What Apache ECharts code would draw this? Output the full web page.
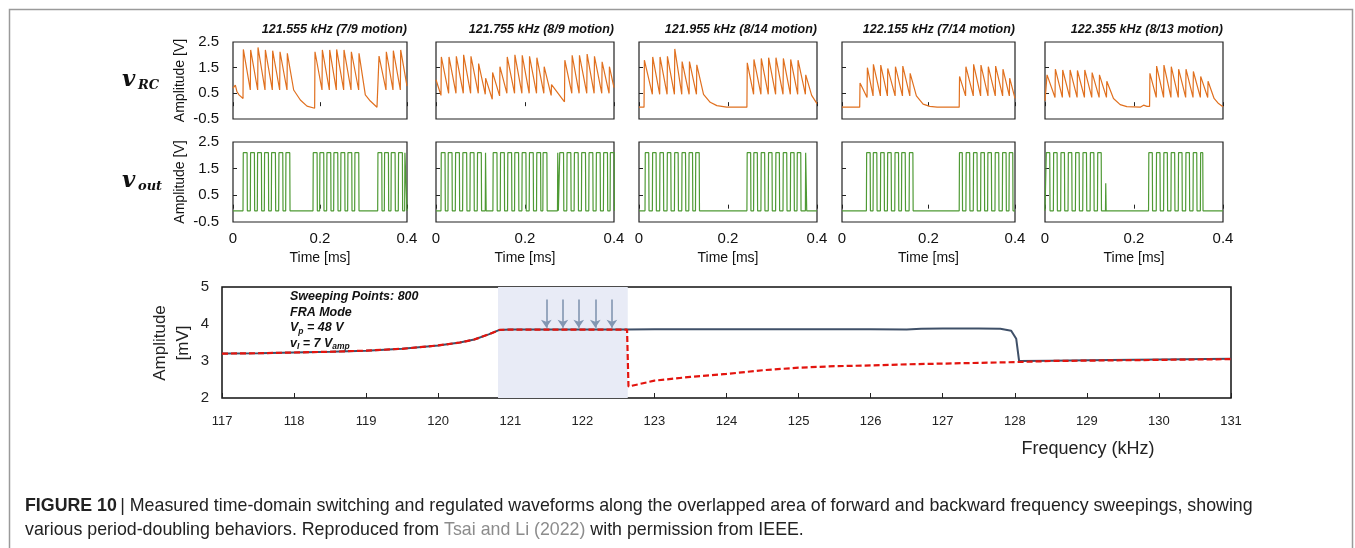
<!DOCTYPE html>
<html>
<head>
<meta charset="utf-8">
<script src="https://cdn.jsdelivr.net/npm/echarts@6/dist/echarts.min.js"></script>
<style>
  html, body { margin: 0; padding: 0; background: #fff; }
  #main { width: 1355px; height: 548px; }
</style>
</head>
<body>
<div id="main"></div>
<script>
// top panels
const panelTitles = ['121.555 kHz (7/9 motion)', '121.755 kHz (8/9 motion)', '121.955 kHz (8/14 motion)',
    '122.155 kHz (7/14 motion)', '122.355 kHz (8/13 motion)'];
const timeTicks = [0, 0.2, 0.4];
const ampTicks = [-0.5, 0.5, 1.5, 2.5];

// v_RC traces, each row: [time ms, value before the rise, value after the rise]
const rc1 = [[0, 0.7, 0.7], [0.0054, 0.82, 0.82], [0.0092, 0.56, 0.56], [0.0138, 0.44, 0.44], [0.023, 0.3, 2.21],
    [0.0398, 0.63, 2.19], [0.0567, 0.63, 2.29], [0.0736, 0.63, 2.19], [0.0904, 0.63, 2.16], [0.1073, 0.63, 2.12],
    [0.1241, 0.63, 2.06], [0.1395, 0.63, 0.63], [0.1548, 0.24, 0.24], [0.1701, 0.0, 0.0], [0.1877, -0.08, 2.12],
    [0.2046, 0.63, 2.19], [0.2215, 0.63, 2.19], [0.2375, 0.63, 2.21], [0.2544, 0.63, 2.19], [0.2713, 0.63, 2.12],
    [0.2889, 0.63, 2.06], [0.3042, 0.44, 0.44], [0.3157, 0.2, 0.2], [0.331, -0.04, -0.04], [0.3349, -0.04, 1.95],
    [0.3517, 0.63, 2.12], [0.3678, 0.63, 2.16], [0.3847, 0.63, 2.19], [0.4, 0.78, 0.78]];
const rc2 = [[0, 1.03, 1.03], [0.0112, 0.42, 1.92], [0.0284, 0.5, 1.92], [0.0449, 0.5, 1.94], [0.0613, 0.5, 2.0],
    [0.0778, 0.5, 1.94], [0.095, 0.5, 1.66], [0.1107, 0.46, 1.09], [0.1264, 0.27, 1.31], [0.1429, 0.4, 1.54],
    [0.1593, 0.5, 1.92], [0.1765, 0.5, 2.0], [0.193, 0.5, 1.98], [0.2094, 0.5, 1.94], [0.2259, 0.5, 1.89],
    [0.2423, 0.5, 1.54], [0.2588, 0.42, 0.84], [0.2887, 0.17, 1.79], [0.3052, 0.5, 1.98], [0.3216, 0.5, 1.98],
    [0.3388, 0.5, 2.03], [0.3553, 0.5, 1.94], [0.3725, 0.5, 1.73], [0.3889, 0.5, 1.54], [0.4, 0.72, 0.72]];
const rc3 = [[0, -0.04, -0.04], [0.0113, -0.04, 1.79], [0.030, 0.46, 1.92], [0.0465, 0.46, 1.92], [0.0631, 0.46, 1.94],
    [0.0796, 0.46, 2.23], [0.0961, 0.46, 1.74], [0.1126, 0.46, 1.74], [0.1291, 0.46, 1.61], [0.145, 0.46, 0.46],
    [0.16, 0.15, 0.15], [0.175, 0.02, 0.02], [0.197, -0.04, -0.04], [0.2425, -0.04, 1.69], [0.2575, 0.46, 1.82],
    [0.274, 0.46, 1.86], [0.2905, 0.46, 1.89], [0.307, 0.46, 1.89], [0.3236, 0.46, 1.86], [0.3401, 0.46, 1.82],
    [0.3566, 0.46, 1.79], [0.3739, 0.46, 1.22], [0.388, 0.42, 0.42], [0.4, 0.1, 0.1]];
const rc4 = [[0, -0.04, -0.04], [0.0409, -0.04, 0.9], [0.0579, 0.34, 1.5], [0.0718, 0.4, 1.63], [0.0888, 0.4, 1.6],
    [0.105, 0.4, 1.47], [0.1228, 0.4, 1.54], [0.1398, 0.4, 1.56], [0.1568, 0.4, 1.28], [0.172, 0.4, 0.4],
    [0.1876, 0.08, 0.08], [0.203, -0.01, -0.01], [0.22, -0.04, -0.04], [0.271, -0.04, 1.16], [0.2857, 0.4, 1.54],
    [0.3035, 0.4, 1.63], [0.3205, 0.4, 1.6], [0.3375, 0.4, 1.54], [0.3544, 0.4, 1.56], [0.3714, 0.4, 1.44],
    [0.3869, 0.4, 1.09], [0.4, 0.3, 0.3]];
const rc5 = [[0, 0.21, 0.21], [0.0038, 0.21, 1.22], [0.0225, 0.34, 1.44], [0.039, 0.34, 1.41], [0.0556, 0.34, 1.41],
    [0.0721, 0.34, 1.39], [0.0886, 0.34, 1.41], [0.1051, 0.34, 1.31], [0.1216, 0.34, 1.22], [0.1381, 0.34, 0.97],
    [0.1539, 0.3, 0.3], [0.1689, 0.06, 0.06], [0.1839, -0.02, -0.02], [0.214, -0.04, -0.04], [0.2215, 0.04, 0.04],
    [0.229, -0.01, -0.01], [0.235, -0.01, 1.28], [0.25, 0.34, 1.56], [0.2665, 0.34, 1.6], [0.283, 0.34, 1.54],
    [0.2995, 0.34, 1.44], [0.3161, 0.34, 1.44], [0.3326, 0.34, 1.35], [0.3491, 0.34, 1.16], [0.3656, 0.34, 0.97],
    [0.38, 0.3, 0.3], [0.39, 0.1, 0.1], [0.4, -0.02, -0.02]];

// v_out pulses: rise time in ms, or [rise, width, height]
const out1 = [0.023, 0.0398, 0.0559, 0.072, 0.0881, 0.105, 0.1211, 0.1839, 0.1992, 0.2153, 0.2314, 0.2475, 0.2636,
    0.2797, 0.3326, 0.3479, 0.3632, 0.38, [0.3946, 0.0054]];
const out2 = [0.0112, 0.0269, 0.0434, 0.0598, 0.0763, 0.0927, [0.1107, 0.002], 0.1279, 0.1444, 0.1608, 0.1765,
    0.193, 0.2094, 0.2259, 0.2401, [0.273, 0.002], 0.2775, 0.2939, 0.3104, 0.3268, 0.3433, 0.3598, 0.3762, 0.3912];
const out3 = [0.0135, 0.03, 0.0465, 0.0631, 0.0796, 0.0961, 0.1119, 0.1269, 0.2425, 0.2575, 0.274, 0.2905, 0.307,
    0.3236, 0.3401, 0.3551, [0.3739, 0.003]];
const out4 = [0.0564, 0.0718, 0.0888, 0.105, 0.122, 0.1375, 0.1552, [0.271, 0.0077], 0.2865, 0.3035, 0.3205,
    0.3367, 0.3537, 0.3707, 0.3861];
const out5 = [0.0023, 0.0188, 0.0353, 0.0518, 0.0683, 0.0848, 0.1014, 0.1179, [0.1359, 0.0015, 0.95], 0.2327, 0.25,
    0.2665, 0.283, 0.2995, 0.3161, 0.3326, [0.3491, 0.006]];
const outWidth = [0.0100, 0.0097, 0.0090, 0.0093, 0.0090];
const outHigh = 2.1;
const outLow = -0.08;

// frequency sweep (bottom)
const fwdSweep = [[117, 3.2], [117.5, 3.21], [118, 3.23], [118.5, 3.25], [119, 3.28], [119.5, 3.33], [120, 3.42],
    [120.3, 3.5], [120.5, 3.58], [120.7, 3.72], [120.85, 3.84], [121, 3.85], [122, 3.85], [122.62, 3.85],
    [123, 3.86], [124, 3.86], [125, 3.86], [126, 3.86], [126.5, 3.85], [126.7, 3.87], [127, 3.88], [127.5, 3.88],
    [127.8, 3.87], [127.95, 3.82], [128.02, 3.6], [128.06, 3.0], [128.5, 3.01], [129, 3.02], [130, 3.04], [131, 3.06]];
const bwdSweep = [[117, 3.2], [117.5, 3.21], [118, 3.23], [118.5, 3.25], [119, 3.28], [119.5, 3.33], [120, 3.42],
    [120.3, 3.5], [120.5, 3.58], [120.7, 3.72], [120.85, 3.84], [121, 3.85], [122, 3.85], [122.62, 3.85],
    [122.64, 2.31], [122.8, 2.38], [123, 2.47], [123.5, 2.57], [124, 2.65], [124.5, 2.75], [125, 2.82],
    [125.5, 2.86], [126, 2.88], [126.5, 2.91], [127, 2.93], [127.5, 2.95], [128, 2.97], [128.5, 3.0],
    [129, 3.01], [130, 3.03], [131, 3.05]];
const overlapBand = [120.83, 122.63];
const arrowFreq = [121.5, 121.73, 121.95, 122.18, 122.41];
const arrowFrom = 4.66;
const arrowTo = 3.9;

const rcTraces = [rc1, rc2, rc3, rc4, rc5];
const outTraces = [out1, out2, out3, out4, out5];

function rcLine(events) {
    let pts = [];
    events.forEach(function(e) {
        pts.push([e[0], e[1]]);
        if (e[2] !== e[1]) pts.push([e[0] + 0.0008, e[2]]);
    });
    return pts;
}

function outLine(pulses, width) {
    let pts = [[0, outLow]];
    pulses.forEach(function(p) {
        let on = Array.isArray(p) ? p[0] : p;
        let w = Array.isArray(p) && p[1] ? p[1] : width;
        let h = Array.isArray(p) && p[2] ? p[2] : outHigh;
        pts.push([on, outLow], [on + 0.0006, h], [on + w - 0.0006, h], [on + w, outLow]);
    });
    pts.push([0.4, outLow]);
    return pts;
}

const colLeft = [233, 436, 639, 842, 1045];
const colWidth = [174, 178, 178, 173, 178];
const font = 'Liberation Sans';

let grids = [], xAxes = [], yAxes = [], series = [], graphics = [];

for (let row = 0; row < 2; row++) {
    for (let c = 0; c < 5; c++) {
        let idx = row * 5 + c;
        grids.push({
            left: colLeft[c], width: colWidth[c],
            top: row === 0 ? 42 : 142, height: row === 0 ? 77 : 80,
            show: true, borderColor: '#222', borderWidth: 1.2
        });
        xAxes.push({
            type: 'value', gridIndex: idx, min: timeTicks[0], max: timeTicks[2], interval: 0.2,
            axisLine: { show: false },
            axisTick: { inside: true, length: 4, lineStyle: { color: '#222' } },
            axisLabel: { show: row === 1, fontSize: 15, color: '#111', margin: 9, fontFamily: font },
            splitLine: { show: false },
            name: row === 1 ? 'Time [ms]' : '', nameLocation: 'middle', nameGap: 29,
            nameTextStyle: { fontSize: 14, color: '#111', fontFamily: font }
        });
        yAxes.push({
            type: 'value', gridIndex: idx, min: -0.5, max: 2.5,
            axisLine: { show: false },
            axisTick: { inside: true, length: 4, customValues: [0.5, 1.5], lineStyle: { color: '#222' } },
            axisLabel: { show: c === 0, customValues: ampTicks, fontSize: 15, color: '#111', margin: 14, fontFamily: font },
            splitLine: { show: false },
            name: c === 0 ? 'Amplitude [V]' : '', nameLocation: 'middle', nameGap: 46,
            nameTextStyle: { fontSize: 14, color: '#111', fontFamily: font }
        });
        series.push({
            type: 'line', xAxisIndex: idx, yAxisIndex: idx, showSymbol: false, silent: true,
            data: row === 0 ? rcLine(rcTraces[c]) : outLine(outTraces[c], outWidth[c]),
            lineStyle: { width: 1.2, color: row === 0 ? '#e0701f' : '#4f9a35' }
        });
    }
}

for (let c = 0; c < 5; c++) {
    graphics.push({
        type: 'text', x: colLeft[c] + colWidth[c], y: 30,
        style: { text: panelTitles[c], align: 'right', verticalAlign: 'middle', fill: '#111',
            fontSize: 12.5, fontWeight: 'bold', fontStyle: 'italic', fontFamily: font }
    });
}

// bottom sweep chart
grids.push({ left: 222, right: 124, top: 287, height: 111, show: true, borderColor: '#111', borderWidth: 1.5 });
xAxes.push({
    type: 'value', gridIndex: 10, min: 117, max: 131, interval: 1,
    axisLine: { show: false },
    axisTick: { inside: true, length: 5, lineStyle: { color: '#222' } },
    axisLabel: { fontSize: 13, color: '#222', margin: 17, fontFamily: font },
    splitLine: { show: false }
});
yAxes.push({
    type: 'value', gridIndex: 10, min: 2, max: 5, interval: 1,
    axisLine: { show: false }, axisTick: { show: false },
    axisLabel: { fontSize: 15, color: '#222', margin: 13, fontFamily: font },
    splitLine: { show: false }
});
series.push({
    type: 'line', xAxisIndex: 10, yAxisIndex: 10, data: [], z: 1, silent: true,
    markArea: { silent: true, itemStyle: { color: '#e8ebf6' },
        data: [[{ xAxis: overlapBand[0] }, { xAxis: overlapBand[1] }]] },
    markLine: { silent: true, symbol: ['none', 'arrow'], symbolSize: 8, label: { show: false },
        lineStyle: { color: '#8296b2', width: 1.6, type: 'solid' },
        data: arrowFreq.map(function(f) { return [{ coord: [f, arrowFrom] }, { coord: [f, arrowTo] }]; }) }
});
series.push({
    type: 'line', xAxisIndex: 10, yAxisIndex: 10, data: fwdSweep, z: 2, showSymbol: false, silent: true,
    lineStyle: { color: '#3f5068', width: 2 }
});
series.push({
    type: 'line', xAxisIndex: 10, yAxisIndex: 10, data: bwdSweep, z: 3, showSymbol: false, silent: true,
    lineStyle: { color: '#e3140e', width: 2.2, type: [6, 3] }
});

// labels, notes and caption
const bi = { fontSize: 12.5, fontWeight: 'bold', fontStyle: 'italic', fontFamily: font, fill: '#111', lineHeight: 16 };
const biSub = { fontSize: 8.5, fontWeight: 'bold', fontStyle: 'italic', fontFamily: font, fill: '#111', lineHeight: 8, verticalAlign: 'bottom' };
const notes = ['{m|Sweeping Points: 800}', '{m|FRA Mode}', '{m|V}{s|p}{m| = 48 V}', '{m|v}{s|I}{m| = 7 V}{s|amp}'];
notes.forEach(function(t, i) {
    graphics.push({ type: 'text', x: 290, y: 297 + i * 15.5,
        style: { text: t, verticalAlign: 'middle', rich: { m: bi, s: biSub } } });
});

const serif = 'DejaVu Serif';
[['RC', 80], ['out', 181]].forEach(function(v) {
    graphics.push({ type: 'text', x: 122, y: v[1],
        style: { text: 'v', verticalAlign: 'middle', fill: '#111', fontSize: 23, fontWeight: 'bold', fontStyle: 'italic', fontFamily: serif } });
    graphics.push({ type: 'text', x: 138, y: v[1] + 6,
        style: { text: v[0], verticalAlign: 'middle', fill: '#111', fontSize: 13, fontWeight: 'bold', fontStyle: 'italic', fontFamily: serif } });
});

graphics.push({ type: 'text', x: 172, y: 343, rotation: Math.PI / 2,
    style: { text: 'Amplitude\n[mV]', align: 'center', verticalAlign: 'middle', fill: '#222', fontSize: 17, lineHeight: 23, fontFamily: font } });
graphics.push({ type: 'text', x: 1088, y: 449,
    style: { text: 'Frequency (kHz)', align: 'center', verticalAlign: 'middle', fill: '#222', fontSize: 18, fontFamily: font } });

const cap = { fontSize: 17.8, fontFamily: font, fill: '#222' };
graphics.push({ type: 'text', x: 25, y: 518,
    style: {
        text: '{b|FIGURE 10} {n|| Measured time-domain switching and regulated waveforms along the overlapped area of forward and backward frequency sweepings, showing}\n' +
            '{n|various period-doubling behaviors. Reproduced from }{g|Tsai and Li (2022)}{n| with permission from IEEE.}',
        verticalAlign: 'middle',
        rich: {
            b: Object.assign({}, cap, { fontWeight: 'bold', lineHeight: 24 }),
            n: Object.assign({}, cap, { lineHeight: 24 }),
            g: Object.assign({}, cap, { fill: '#8c8c8c', lineHeight: 24 })
        }
    } });

graphics.push({ type: 'rect', z: -1, shape: { x: 9.5, y: 9.5, width: 1343, height: 560 },
    style: { fill: 'none', stroke: '#9a9a9a', lineWidth: 1.5 } });

let chart = echarts.init(document.getElementById('main'));
chart.setOption({
    animation: false,
    textStyle: { fontFamily: font },
    grid: grids,
    xAxis: xAxes,
    yAxis: yAxes,
    series: series,
    graphic: graphics
});
</script>
</body>
</html>
